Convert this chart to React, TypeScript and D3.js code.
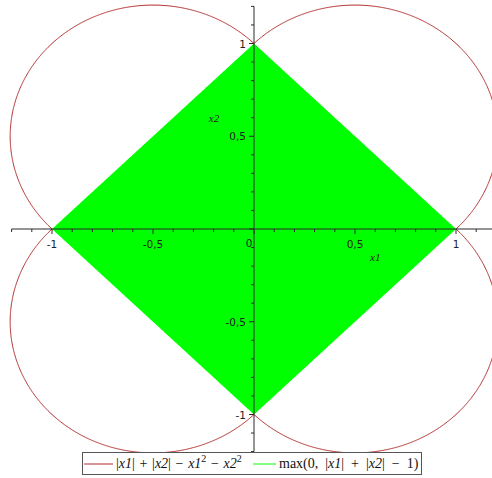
import React from "react";
import * as d3 from "d3";

// Plot window and ticks
const xDomain = [-1.2, 1.2];
const yDomain = [-1.2, 1.2];
const xTickLabels = [
  { v: -1, t: "-1" },
  { v: -0.5, t: "-0,5" },
  { v: 0.5, t: "0,5" },
  { v: 1, t: "1" },
];
const yTickLabels = [
  { v: 1, t: "1" },
  { v: 0.5, t: "0,5" },
  { v: -0.5, t: "-0,5" },
  { v: -1, t: "-1" },
];
const minorStep = 0.1;

// Functions plotted
const f1 = (a: number, b: number) => Math.abs(a) + Math.abs(b) - a * a - b * b;
const f2 = (a: number, b: number) => Math.max(0, Math.abs(a) + Math.abs(b) - 1);

const seriesColors = ["#b22c2c", "#00ff00"];

const W = 492;
const H = 478;
const SP = "\u2002";
const SP2 = "\u2004";

export default function App() {
  const x = d3.scaleLinear().domain([-1, 1]).range([52, 456]);
  const y = d3.scaleLinear().domain([-1, 1]).range([414.5, 43.5]);

  // sample grid for contouring
  const n = 521;
  const g0 = -1.3;
  const g1 = 1.3;
  const gs = d3.scaleLinear().domain([0, n - 1]).range([g0, g1]);
  const v1: number[] = new Array(n * n);
  const v2: number[] = new Array(n * n);
  for (let j = 0; j < n; j++) {
    for (let i = 0; i < n; i++) {
      const a = gs(i);
      const b = gs(j);
      v1[j * n + i] = f1(a, b);
      // positive inside the zero set of f2, signed distance-like outside
      v2[j * n + i] = f2(a, b) <= 0 ? 1 - Math.abs(a) - Math.abs(b) : -f2(a, b);
    }
  }
  const proj = d3.geoTransform({
    point(px: number, py: number) {
      // contour coords are cell-corner based; shift by half a cell
      (this as any).stream.point(x(gs(px - 0.5)), y(gs(py - 0.5)));
    },
  });
  const path = d3.geoPath(proj);
  const c1 = d3.contours().size([n, n]).thresholds([0])(v1)[0];
  const c2 = d3.contours().size([n, n]).thresholds([0])(v2)[0];

  const xTicks = d3.range(Math.round(xDomain[0] / minorStep), Math.round(xDomain[1] / minorStep) + 1).map((k) => k * minorStep);
  const yTicks = d3.range(Math.round(yDomain[0] / minorStep), Math.round(yDomain[1] / minorStep) + 1).map((k) => k * minorStep);
  const isMajor = (v: number) => Math.abs(v * 2 - Math.round(v * 2)) < 1e-6;

  const axisColor = "#2a2a2a";
  const tickFont = "'DejaVu Sans', sans-serif";
  const mathFont = "'Liberation Serif', 'Times New Roman', serif";

  return (
    <svg
      width={W}
      height={H}
      style={{ position: "absolute", left: 0, top: 0, background: "#fff" }}
    >
      <defs>
        <clipPath id="plotclip">
          <rect x={0} y={0} width={W} height={452} />
        </clipPath>
      </defs>
      <g clipPath="url(#plotclip)">
        <path d={path(c1 as any) || ""} fill="none" stroke={seriesColors[0]} strokeWidth={1} />
        <path d={path(c2 as any) || ""} fill={seriesColors[1]} stroke="none" />
      </g>

      {/* x axis */}
      <line x1={x(xDomain[0])} x2={W} y1={y(0)} y2={y(0)} stroke={axisColor} strokeWidth={1} />
      {xTicks.map((v, i) => (
        <line
          key={"xt" + i}
          x1={x(v)}
          x2={x(v)}
          y1={y(0)}
          y2={y(0) + (isMajor(v) ? 5 : 3)}
          stroke={axisColor}
          strokeWidth={1}
        />
      ))}
      {xTickLabels.map((d) => (
        <text
          key={"xl" + d.v}
          x={x(d.v)}
          y={y(0) + 19}
          textAnchor="middle"
          fontFamily={tickFont}
          fontSize={10.5}
          fill="#222"
        >
          {d.t}
        </text>
      ))}
      <text x={x(0) - 5} y={y(0) + 18} textAnchor="middle" fontFamily={tickFont} fontSize={10.5} fill="#222">
        0
      </text>
      <text x={x(0.6)} y={y(0) + 32} textAnchor="middle" fontFamily={mathFont} fontStyle="italic" fontSize={11} fill="#222">
        x1
      </text>

      {/* y axis */}
      <line x1={x(0)} x2={x(0)} y1={y(yDomain[1])} y2={y(yDomain[0])} stroke={axisColor} strokeWidth={1} />
      {yTicks.map((v, i) => (
        <line
          key={"yt" + i}
          x1={x(0)}
          x2={x(0) - (isMajor(v) ? 5 : 3)}
          y1={y(v)}
          y2={y(v)}
          stroke={axisColor}
          strokeWidth={1}
        />
      ))}
      {yTickLabels.map((d) => (
        <text
          key={"yl" + d.v}
          x={x(0) - 8}
          y={y(d.v) + 4}
          textAnchor="end"
          fontFamily={tickFont}
          fontSize={10.5}
          fill="#222"
        >
          {d.t}
        </text>
      ))}
      <text x={x(0) - 40} y={y(0.6) + 4} textAnchor="middle" fontFamily={mathFont} fontStyle="italic" fontSize={11} fill="#222">
        x2
      </text>

      {/* legend */}
      <rect x={82.5} y={452.5} width={339} height={22} fill="#fff" stroke="#555" strokeWidth={1} />
      <line x1={84} x2={113} y1={464} y2={464} stroke={seriesColors[0]} strokeWidth={1} />
      <text x={116} y={468} fontFamily={mathFont} fontSize={14} fill="#111" xmlSpace="preserve">
        <tspan>|</tspan>
        <tspan fontStyle="italic">x1</tspan>
        <tspan>{"|" + SP2 + "+" + SP2 + "|"}</tspan>
        <tspan fontStyle="italic">x2</tspan>
        <tspan>{"|" + SP2 + "−" + SP2}</tspan>
        <tspan fontStyle="italic">x1</tspan>
        <tspan fontSize={10} dy={-6}>2</tspan>
        <tspan dy={6}>{SP2 + "−" + SP2}</tspan>
        <tspan fontStyle="italic">x2</tspan>
        <tspan fontSize={10} dy={-6}>2</tspan>
      </text>
      <line x1={253} x2={276} y1={464} y2={464} stroke={seriesColors[1]} strokeWidth={1} />
      <text x={279} y={468} fontFamily={mathFont} fontSize={14} fill="#111" xmlSpace="preserve">
        <tspan>{"max(0," + SP + "|"}</tspan>
        <tspan fontStyle="italic">x1</tspan>
        <tspan>{"|" + SP + "+" + SP + "|"}</tspan>
        <tspan fontStyle="italic">x2</tspan>
        <tspan>{"|" + SP + "−" + SP + "1)"}</tspan>
      </text>
    </svg>
  );
}
